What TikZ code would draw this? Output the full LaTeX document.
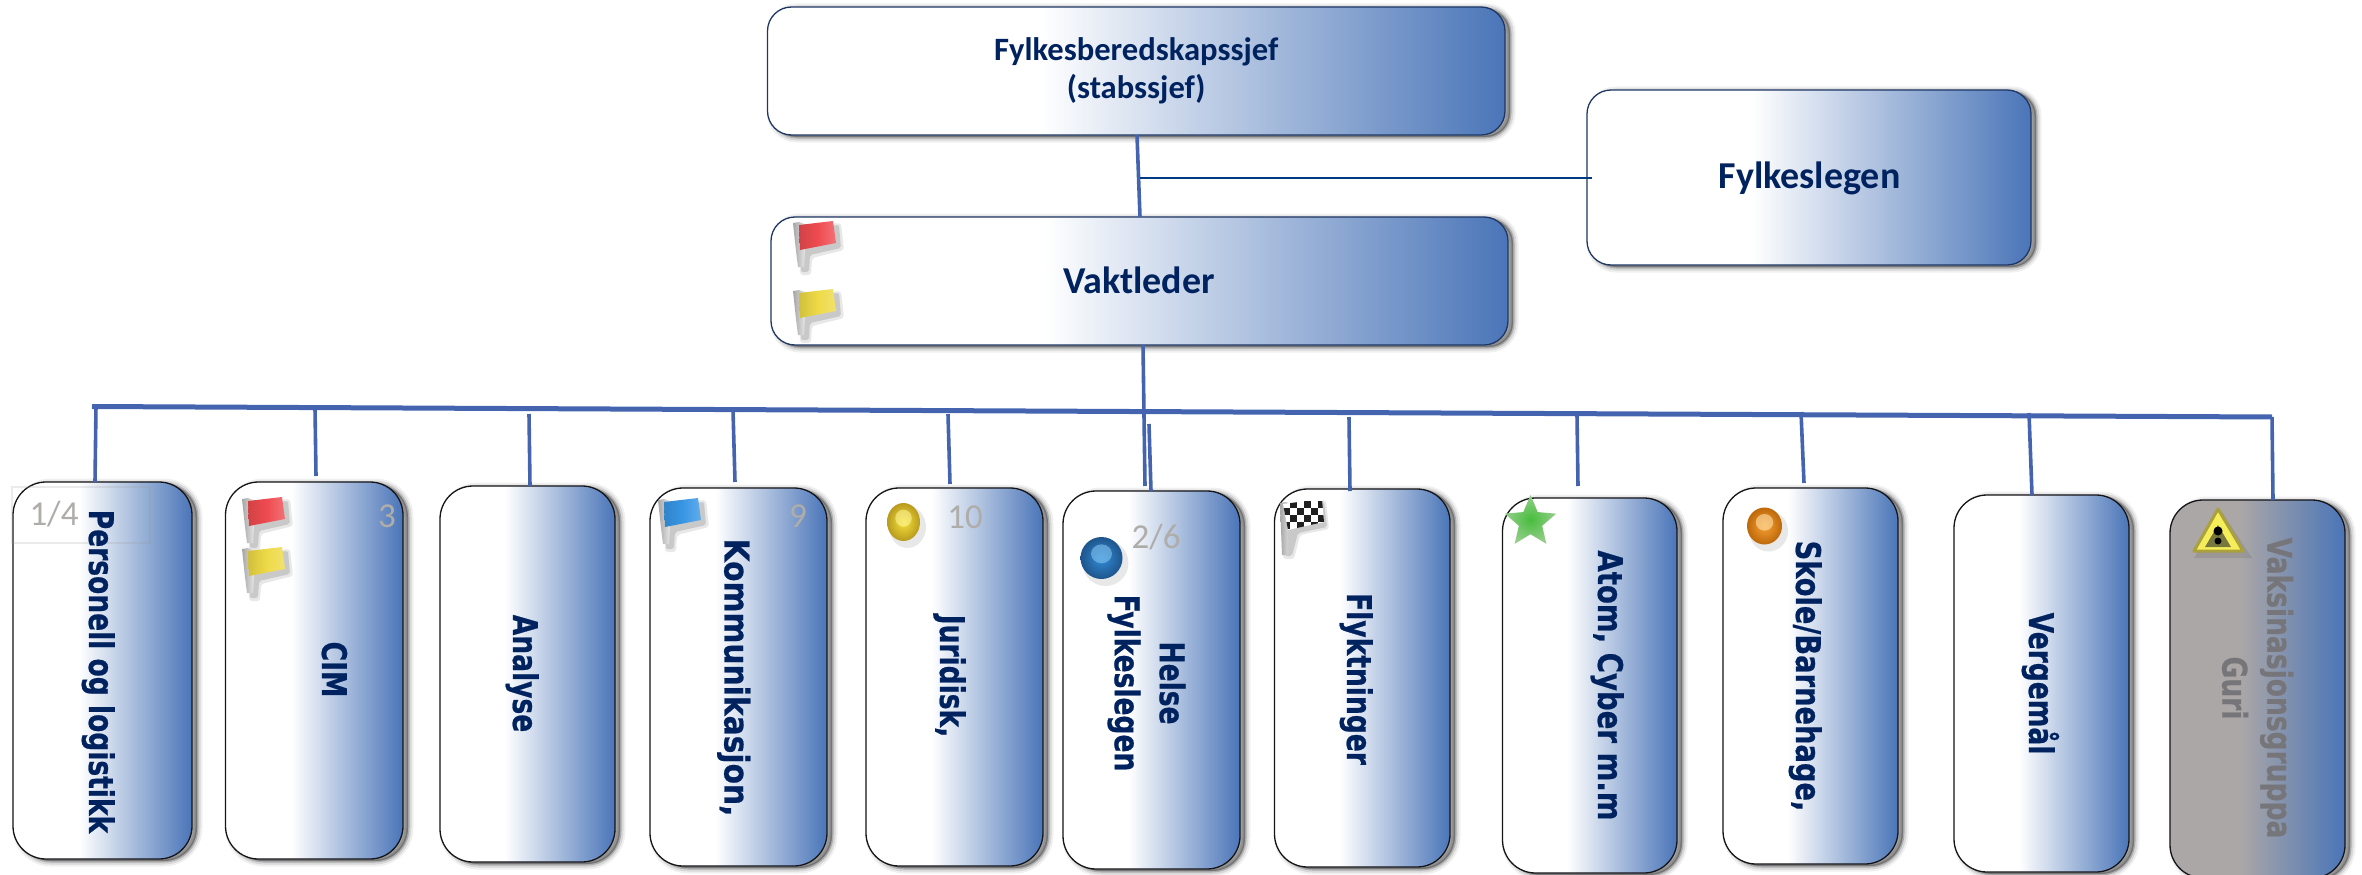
\documentclass[tikz,border=0pt]{standalone}
\usepackage{fontspec}
\usepackage{graphicx}
\usetikzlibrary{shapes.geometric}
\setmainfont{Carlito}
\newfontfamily\boxfont[FakeStretch=0.78,BoldFeatures={FakeBold=0.6}]{DejaVu Sans}
\definecolor{gradblue}{RGB}{74,117,184}
\definecolor{navytext}{RGB}{0,35,95}
\definecolor{linkblue}{RGB}{68,100,176}
\definecolor{linkdark}{RGB}{0,58,128}
\definecolor{numgrey}{RGB}{175,173,170}
\definecolor{greyfill}{RGB}{171,167,167}
\definecolor{topedge}{RGB}{30,55,100}
\definecolor{lowedge}{RGB}{20,20,25}
\definecolor{greytext}{RGB}{118,118,122}
\definecolor{warnedge}{RGB}{170,160,60}
\definecolor{warnfill}{RGB}{245,238,90}
\definecolor{warndark}{RGB}{120,120,60}
\definecolor{flagred}{RGB}{238,75,80}
\definecolor{flagyellow}{RGB}{238,218,70}
\definecolor{flagblue}{RGB}{55,150,228}
\definecolor{ballyellow}{RGB}{245,225,60}
\definecolor{ballyellowout}{RGB}{185,155,30}
\definecolor{ballyellowhi}{RGB}{255,245,150}
\definecolor{ballblue}{RGB}{50,140,215}
\definecolor{ballblueout}{RGB}{30,85,140}
\definecolor{ballbluehi}{RGB}{130,195,240}
\definecolor{ballorange}{RGB}{245,160,50}
\definecolor{ballorangeout}{RGB}{190,105,10}
\definecolor{ballorangehi}{RGB}{255,225,170}
\definecolor{starin}{RGB}{70,190,60}
\definecolor{starout}{RGB}{150,205,140}
\pgfdeclarehorizontalshading{boxgrad}{100bp}{color(0bp)=(white);color(25bp)=(white);color(43.5bp)=(white);color(75bp)=(gradblue);color(100bp)=(gradblue)}
\pgfdeclarehorizontalshading{greygrad}{100bp}{color(0bp)=(greyfill);color(25bp)=(greyfill);color(45bp)=(greyfill);color(75bp)=(gradblue);color(100bp)=(gradblue)}
\tikzset{
  softshadow/.style={
    preaction={draw=black,fill=black,line width=11pt,draw opacity=.06,fill opacity=.06,transform canvas={xshift=5pt,yshift=-2pt}},
    preaction={draw=black,fill=black,line width=7pt,draw opacity=.10,fill opacity=.10,transform canvas={xshift=5pt,yshift=-2pt}},
    preaction={draw=black,fill=black,line width=3pt,draw opacity=.20,fill opacity=.20,transform canvas={xshift=5pt,yshift=-2pt}}},
  basebox/.style={rectangle,inner sep=0pt,softshadow,shading=boxgrad,line width=1.3pt},
  topbox/.style={basebox,draw=topedge,rounded corners=24pt,text=navytext,align=center,font=\bfseries\fontsize{32.6}{38}\selectfont},
  lowbox/.style={basebox,draw=lowedge,rounded corners=33pt},
  greybox/.style={lowbox,shading=greygrad},
  vlabel/.style={rotate=-90,anchor=base,inner sep=0pt,text=navytext,font=\boxfont\bfseries\fontsize{34}{45}\selectfont,align=center},
  toplabel/.style={font=\bfseries\fontsize{38}{40}\selectfont},
  numlabel/.style={text=numgrey,inner sep=0pt,font=\fontsize{35}{38}\selectfont},
  link/.style={draw=linkblue,line width=3.6pt},
  mainbus/.style={draw=linkblue,line width=5pt},
  sidelink/.style={draw=linkdark,line width=2.8pt},
  iconshadow/.style={fill=black,opacity=.09},
  iconshadowb/.style={fill=black,opacity=.13}
}
\newcommand\placebox[6]{\node[#1,minimum width={#5-#3},minimum height={#6-#4}] (#2) at ({(#3+#5)/2},{(#4+#6)/2})}
\newcommand\flagicon[3]{%
  \begin{scope}[shift={(#1,#2)}]
    \fill[iconshadow,rounded corners=3pt] (6,6) -- (48,2) -- (51,29) -- (19,37) -- (18,54) -- (7,54) -- cycle;
    \fill[iconshadowb,rounded corners=2pt] (8,8) -- (46,4) -- (48,27) -- (17,34) -- (16,51) -- (8,51) -- cycle;
    \shade[left color=gray!70,right color=gray!20] (0,2) -- (6,1) -- (12,3) -- (12,30) -- (11,46) -- (5,46) -- (3,30) -- cycle;
    \shade[left color=#3!88!black,right color=#3!78!white,middle color=#3] (6,4) -- (40,0) -- (43,22) -- (7,29) -- cycle;
  \end{scope}}
\newcommand\ballicon[7]{%
  \fill[iconshadow] (#1+4,#2+5) ellipse [x radius=#3+2,y radius=#4+2];
  \shade[inner color=#5,outer color=#6] (#1,#2) ellipse [x radius=#3,y radius=#4];
  \fill[#7,opacity=.6] (#1,#2-#4*.2) ellipse [x radius=#3*.5,y radius=#4*.45];}
\begin{document}
\begin{tikzpicture}[x=1pt,y=-1pt]
\useasboundingbox (0,0) rectangle (2362,875);
% upper boxes
\placebox{topbox}{chief}{767.5}{7}{1505}{135} {Fylkesberedskapssjef\\(stabssjef)};
\placebox{topbox}{duty}{771}{217}{1508}{345} {};
\placebox{topbox}{doctor}{1587}{90}{2031}{265} {};
% lower boxes
\placebox{lowbox}{b1}{13}{482}{192}{859} {};
\placebox{lowbox}{b2}{225.5}{482}{403}{859} {};
\placebox{lowbox}{b3}{440}{486}{615}{862} {};
\placebox{lowbox}{b4}{650}{488}{827}{866} {};
\placebox{lowbox}{b5}{866}{488}{1043}{866} {};
\placebox{lowbox}{b6}{1063}{491}{1240}{869} {};
\placebox{lowbox}{b7}{1274.5}{489}{1450}{867} {};
\placebox{lowbox}{b8}{1502.5}{498}{1677}{873} {};
\placebox{lowbox}{b9}{1723}{488}{1898}{864} {};
\placebox{lowbox}{b10}{1954}{495}{2129}{872} {};
\placebox{greybox}{b11}{2170}{500}{2345}{878} {};
% connector points
\coordinate (busL) at (92,406.5);
\coordinate (busR) at (2272,417);
\coordinate (t1) at (96,406);
\coordinate (joint) at (1140,178);
\coordinate (t2) at (315,408);   \coordinate (e2) at (316,476);
\coordinate (t3) at (529,414);   \coordinate (e3) at (530,486);
\coordinate (t4) at (733,410);   \coordinate (e4) at (735,482);
\coordinate (t5) at (948,414);   \coordinate (e5) at (950,484);
\coordinate (e6a) at (1145,486);
\coordinate (t6) at (1149,424);  \coordinate (e6) at (1151,491);
\coordinate (t7) at (1349,417);  \coordinate (e7) at (1350,491);
\coordinate (t8) at (1577,415);  \coordinate (e8) at (1578,486);
\coordinate (t9) at (1801,412);  \coordinate (e9) at (1804,483);
\coordinate (t10) at (2029,413); \coordinate (e10) at (2032,495);
\coordinate (chiefout) at (1137,135);
\coordinate (dutyin) at (1140,217);
\coordinate (dutyout) at (1143,345);
\coordinate (doctorin) at (1592,178);
% connectors
\draw[link] (chiefout) -- (dutyin);
\draw[sidelink] (joint) -- (doctorin);
\draw[link] (dutyout) -- (e6a);
\draw[mainbus] (busL) -- (busR);
\draw[link] (t1) -- (95,482);
\draw[link] (t2) -- (e2);
\draw[link] (t3) -- (e3);
\draw[link] (t4) -- (e4);
\draw[link] (t5) -- (e5);
\draw[link] (t6) -- (e6);
\draw[link] (t7) -- (e7);
\draw[link] (t8) -- (e8);
\draw[link] (t9) -- (e9);
\draw[link] (t10) -- (e10);
\draw[link] (busR) -- (2273,500);
% upper labels
\node[toplabel,text=navytext,anchor=base] (lduty) at (1139,293) {Vaktleder};
\node[toplabel,text=navytext] (ldoctor) at (1809.5,178) {Fylkeslegen};
% number labels
\draw[draw=black!40,opacity=.2,line width=1.5pt] (12,487) rectangle (150,543);
\node[numlabel] (n1) at (54,514) {1/4};
\node[numlabel] (n2) at (387,516) {3};
\node[numlabel] (n4) at (798,516) {9};
\node[numlabel] (n5) at (965,517) {10};
\node[numlabel] (n6) at (1156,537) {2/6};
% vertical labels
\node[vlabel] (l1) at (89,671.5) {Personell og logistikk};
\node[vlabel] (l2) at (322,669.5) {CIM};
\node[vlabel] (l3) at (513,673.5) {Analyse};
\node[vlabel] (l4) at (724.5,677.5) {\scalebox{1.12}[1]{Kommunikasjon,}};
\node[vlabel] (l5) at (940,676) {Juridisk,};
\node[vlabel,anchor=center] (l6) at (1146.5,683) {Helse\\Fylkeslegen};
\node[vlabel] (l7) at (1347,679) {Flyktninger};
\node[vlabel] (l8) at (1598,685.5) {\scalebox{1.04}[1]{Atom, Cyber m.m}};
\node[vlabel] (l9) at (1796,676) {\scalebox{1.03}[1]{Skole/Barnehage,}};
\node[vlabel] (l10) at (2029,683.5) {Vergemål};
\node[vlabel,anchor=center,text=greytext] (l11) at (2257.5,688) {Vaksinasjonsgruppa\\Guri};
% icons
\flagicon{793}{221}{flagred}
\flagicon{793}{289}{flagyellow}
\flagicon{242}{497}{flagred}
\flagicon{242}{547}{flagyellow}
\flagicon{658}{498}{flagblue}
% checkered flag
\begin{scope}[shift={(1280,499)}]
  \fill[iconshadow,rounded corners=3pt] (4,6) -- (46,1) -- (49,30) -- (20,36) -- (14,60) -- (3,60) -- cycle;
  \fill[iconshadowb,rounded corners=2pt] (6,8) -- (44,3) -- (47,28) -- (18,34) -- (12,57) -- (5,57) -- cycle;
  \shade[left color=gray!70,right color=gray!20] (0,4) -- (6,3) -- (11,5) -- (8,30) -- (8,56) -- (2,56) -- cycle;
  \begin{scope}
    \clip (3,5) -- (42,0) -- (44,23) -- (8,31) -- cycle;
    \fill[white] (0,0) rectangle (50,35);
    \foreach \a/\b in {3/9,17/9,31/9,10/2,24/2,38/2,10/16,24/16,38/16,3/23,17/23,31/23}
      \fill[black!88] (\a,\b) rectangle ++(7,7);
  \end{scope}
\end{scope}
\ballicon{903.5}{522}{16.5}{19}{ballyellow}{ballyellowout}{ballyellowhi}
\ballicon{1101.5}{558}{21}{21}{ballblue}{ballblueout}{ballbluehi}
\ballicon{1764.5}{526}{17.5}{18.5}{ballorange}{ballorangeout}{ballorangehi}
\node[star,star points=5,star point ratio=2.2,inner sep=0pt,minimum size=54pt,shading=radial,inner color=starin,outer color=starout] (staricon) at (1530.5,522) {};
% warning icon
\fill[iconshadow] (2222,512) -- (2252,558) -- (2194,558) -- cycle;
\filldraw[draw=warnedge,line width=3pt,line join=round,fill=warnfill] (2218,509) -- (2243,551) -- (2194,551) -- cycle;
\fill[warndark] (2218,525) -- (2231,547) -- (2205,547) -- cycle;
\fill[black] (2218,531) circle (4.5);
\fill[black] (2218,541) circle (3.5);
\end{tikzpicture}
\end{document}
